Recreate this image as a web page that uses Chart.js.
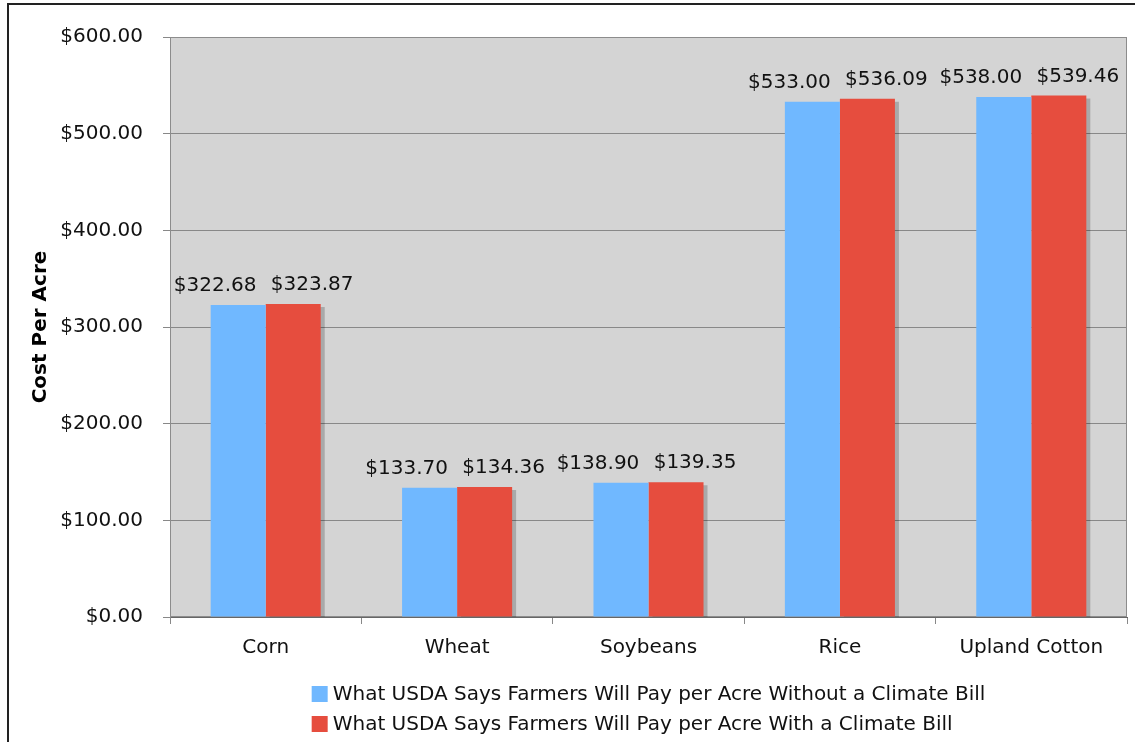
<!DOCTYPE html>
<html>
<head>
<meta charset="utf-8">
<script src="https://cdn.jsdelivr.net/npm/chart.js@4.4.0/dist/chart.umd.min.js"></script>
<style>
    html, body { margin: 0; padding: 0; background: #fff; overflow: hidden; }
    #frame { position: absolute; left: 7px; top: 3px; width: 1200px; height: 800px; border: 2px solid #222; box-sizing: border-box; pointer-events: none; }
    canvas { position: absolute; left: 0; top: 0; }
</style>
</head>
<body>
<canvas id="costChart" width="1135" height="742"></canvas>
<div id="frame"></div>
<script>
// Chart data
const crops = ['Corn', 'Wheat', 'Soybeans', 'Rice', 'Upland Cotton'];
const withoutBill = [322.68, 133.70, 138.90, 533.00, 538.00];
const withBill = [323.87, 134.36, 139.35, 536.09, 539.46];
const seriesNames = [
    'What USDA Says Farmers Will Pay per Acre Without a Climate Bill',
    'What USDA Says Farmers Will Pay per Acre With a Climate Bill'
];
const seriesColors = ['rgb(112, 184, 255)', 'rgb(230, 77, 62)'];
const yMin = 0;
const yMax = 600;
const yStep = 100;

const FONT_FAMILY = '"DejaVu Sans", Verdana, sans-serif';
const FONT_SIZE = 20;
const TEXT_COLOR = '#111';

// Format a number as dollars with two decimals
function dollars(v) {
    return '$' + Number(v).toFixed(2);
}

// Grey plot background and frame
const plotBackground = {
    id: 'plotBackground',
    beforeDraw(chart) {
        const { ctx, chartArea } = chart;
        ctx.save();
        ctx.fillStyle = '#d4d4d4';
        ctx.fillRect(chartArea.left, chartArea.top, chartArea.right - chartArea.left, chartArea.bottom - chartArea.top);
        ctx.restore();
    },
    beforeDatasetsDraw(chart) {
        const { ctx, chartArea } = chart;
        ctx.save();
        ctx.strokeStyle = '#8c8c8c';
        ctx.lineWidth = 1;
        ctx.strokeRect(chartArea.left + 0.5, chartArea.top + 0.5, chartArea.right - chartArea.left - 1, chartArea.bottom - chartArea.top - 1);
        ctx.restore();
    }
};

// Small drop shadow to the right of each bar group (only the right-hand
// series shows it, the left one is hidden behind its neighbour anyway)
const barShadow = {
    id: 'barShadow',
    beforeDatasetDraw(chart, args) {
        const ctx = chart.ctx;
        ctx.save();
        if (args.index === 1) {
            ctx.shadowColor = 'rgba(0, 0, 0, 0.2)';
            ctx.shadowOffsetX = 4;
            ctx.shadowOffsetY = 3;
            ctx.shadowBlur = 0;
        }
    },
    afterDatasetDraw(chart) {
        chart.ctx.restore();
    }
};

// Value labels above the bars, pushed apart a little so they do not collide
const valueLabels = {
    id: 'valueLabels',
    afterDatasetsDraw(chart) {
        const ctx = chart.ctx;
        ctx.save();
        ctx.font = FONT_SIZE + 'px ' + FONT_FAMILY;
        ctx.fillStyle = TEXT_COLOR;
        ctx.textAlign = 'center';
        ctx.textBaseline = 'alphabetic';
        chart.data.datasets.forEach((ds, di) => {
            const meta = chart.getDatasetMeta(di);
            const shift = di === 0 ? -23 : 19;
            meta.data.forEach((bar, i) => {
                ctx.fillText(dollars(ds.data[i]), bar.x + shift, bar.y - 14);
            });
        });
        ctx.restore();
    }
};

// Legend drawn as two left-aligned rows centred under the plot
const stackedLegend = {
    id: 'stackedLegend',
    afterDraw(chart) {
        const { ctx, chartArea } = chart;
        ctx.save();
        ctx.font = FONT_SIZE + 'px ' + FONT_FAMILY;
        const boxSize = 16;
        const gap = 5;
        const widths = chart.data.datasets.map(ds => ctx.measureText(ds.label).width);
        const blockW = boxSize + gap + Math.max(...widths);
        const startX = (chartArea.left + chartArea.right) / 2 - blockW / 2;
        chart.data.datasets.forEach((ds, i) => {
            const y = chartArea.bottom + 77 + i * 30;
            ctx.fillStyle = ds.backgroundColor;
            ctx.fillRect(startX, y - boxSize / 2, boxSize, boxSize);
            ctx.fillStyle = TEXT_COLOR;
            ctx.textAlign = 'left';
            ctx.textBaseline = 'middle';
            ctx.fillText(ds.label, startX + boxSize + gap, y + 1);
        });
        ctx.restore();
    }
};

const ctx = document.getElementById('costChart').getContext('2d');
window.costChart = new Chart(ctx, {
    type: 'bar',
    data: {
        labels: crops,
        datasets: [
            {
                label: seriesNames[0],
                data: withoutBill,
                backgroundColor: seriesColors[0],
                borderWidth: 0,
                barPercentage: 1,
                categoryPercentage: 0.575
            },
            {
                label: seriesNames[1],
                data: withBill,
                backgroundColor: seriesColors[1],
                borderWidth: 0,
                barPercentage: 1,
                categoryPercentage: 0.575
            }
        ]
    },
    options: {
        responsive: false,
        animation: false,
        devicePixelRatio: 1,
        layout: { padding: { left: 0, top: 37, right: 8, bottom: 75 } },
        plugins: {
            legend: { display: false },
            tooltip: { enabled: false }
        },
        scales: {
            x: {
                grid: { offset: true, drawOnChartArea: false, drawTicks: true, tickLength: 7, color: '#888' },
                border: { color: '#666', width: 1 },
                ticks: { font: { family: FONT_FAMILY, size: FONT_SIZE }, color: TEXT_COLOR, padding: 12 },
                afterFit(scale) { scale.height = 50; }
            },
            y: {
                min: yMin,
                max: yMax,
                ticks: {
                    stepSize: yStep,
                    callback: v => dollars(v),
                    font: { family: FONT_FAMILY, size: FONT_SIZE },
                    color: TEXT_COLOR,
                    padding: 20
                },
                grid: { color: '#888', tickLength: 7 },
                border: { color: '#888' },
                title: {
                    display: true,
                    text: 'Cost Per Acre',
                    font: { family: FONT_FAMILY, size: FONT_SIZE, weight: 'bold' },
                    color: '#000',
                    padding: { top: 29, bottom: 0 }
                },
                afterFit(scale) { scale.width = 170; }
            }
        }
    },
    plugins: [plotBackground, barShadow, valueLabels, stackedLegend]
});
</script>
</body>
</html>
